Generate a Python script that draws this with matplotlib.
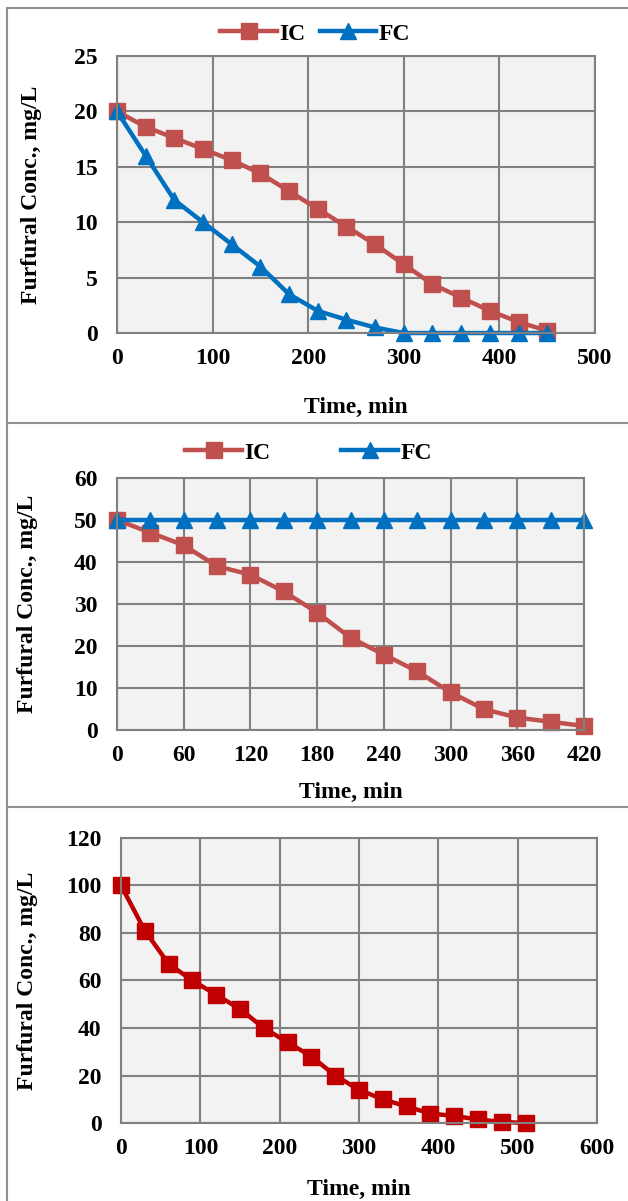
import matplotlib.pyplot as plt
from matplotlib.lines import Line2D

plt.rcParams['font.family'] = ['Liberation Serif', 'DejaVu Serif']
plt.rcParams['font.weight'] = 'bold'

# panel 1
t1 = [0, 30, 60, 90, 120, 150, 180, 210, 240, 270, 300, 330, 360, 390, 420, 450]
ic1 = [20, 18.6, 17.6, 16.6, 15.6, 14.4, 12.8, 11.2, 9.6, 8.0, 6.2, 4.4, 3.2, 2.0, 1.0, 0.2]
fc1 = [20, 16, 12, 10, 8, 6, 3.5, 2, 1.2, 0.5, 0, 0, 0, 0, 0, 0]

# panel 2
t2 = [0, 30, 60, 90, 120, 150, 180, 210, 240, 270, 300, 330, 360, 390, 420]
ic2 = [50, 47, 44, 39, 37, 33, 28, 22, 18, 14, 9, 5, 3, 2, 1]
fc2 = [50, 50, 50, 50, 50, 50, 50, 50, 50, 50, 50, 50, 50, 50, 50]

# panel 3
t3 = [0, 30, 60, 90, 120, 150, 180, 210, 240, 270, 300, 330, 360, 390, 420, 450, 480, 510]
c3 = [100, 81, 67, 60, 54, 48, 40, 34, 28, 20, 14, 10, 7, 4, 3, 1.5, 0.5, 0]

RED = '#C0504D'
BLUE = '#0070C0'
DARKRED = '#C00000'
FS = 17

fig = plt.figure(figsize=(6.28, 12.01), dpi=100)

# panel frames
for y in [1 - 8 / 1201, 1 - 423 / 1201, 1 - 807 / 1201]:
    fig.add_artist(Line2D([7 / 628, 1], [y, y], color='#909090', lw=1.5))
fig.add_artist(Line2D([7 / 628, 7 / 628], [0, 1 - 8 / 1201], color='#909090', lw=1.5))


def style(ax, xlim, xticks, ylim, yticks, xlab_y, ylab_x):
    ax.set_facecolor('#F2F2F2')
    ax.set_xlim(*xlim)
    ax.set_ylim(*ylim)
    ax.set_xticks(xticks)
    ax.set_yticks(yticks)
    ax.grid(True, color='#808080', lw=1.5)
    ax.set_axisbelow(True)
    for s in ax.spines.values():
        s.set_color('#808080')
        s.set_linewidth(1.5)
    ax.tick_params(axis='both', length=0, labelsize=FS)
    ax.tick_params(axis='x', pad=11)
    ax.tick_params(axis='y', pad=14)
    ax.set_xlabel('Time, min', fontsize=FS, fontweight='bold')
    ax.set_ylabel('Furfural Conc., mg/L', fontsize=FS, fontweight='bold')
    ax.xaxis.set_label_coords(0.5, xlab_y)
    ax.yaxis.set_label_coords(ylab_x, 0.5)


ax1 = fig.add_axes([0.1863, 0.7227, 0.7612, 0.2307])
ax1.plot(t1, ic1, color=RED, lw=3.2, marker='s', ms=11, label='IC', clip_on=False)
ax1.plot(t1, fc1, color=BLUE, lw=3.2, marker='^', ms=12, label='FC', clip_on=False)
style(ax1, (0, 500), range(0, 501, 100), (0, 25), range(0, 26, 5), -0.231, -0.157)
ax1.legend(loc='center', bbox_to_anchor=(0.415, 1.08), ncol=2, frameon=False,
           fontsize=FS, handlelength=2.4, handletextpad=0.1, columnspacing=0.6)

ax2 = fig.add_axes([0.1863, 0.392, 0.7437, 0.21])
ax2.plot(t2, ic2, color=RED, lw=3.2, marker='s', ms=11, label='IC', clip_on=False)
ax2.plot(t2, fc2, color=BLUE, lw=3.2, marker='^', ms=12, label='FC', clip_on=False)
style(ax2, (0, 420), range(0, 421, 60), (0, 60), range(0, 61, 10), -0.206, -0.169)
ax2.legend(loc='center', bbox_to_anchor=(0.41, 1.1), ncol=2, frameon=False,
           fontsize=FS, handlelength=2.4, handletextpad=0.1, columnspacing=3.0)

ax3 = fig.add_axes([0.1927, 0.0649, 0.7579, 0.2374])
ax3.plot(t3, c3, color=DARKRED, lw=3.2, marker='s', ms=11, clip_on=False)
style(ax3, (0, 600), range(0, 601, 100), (0, 120), range(0, 121, 20), -0.196, -0.174)

fig.savefig('out.png', dpi=100)
